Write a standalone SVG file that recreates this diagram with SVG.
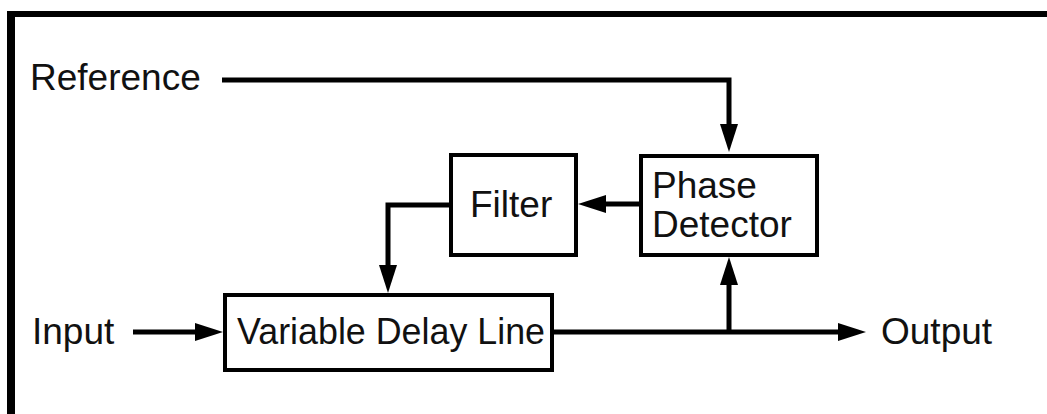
<svg xmlns="http://www.w3.org/2000/svg" width="1047" height="414" viewBox="0 0 1047 414">
<style>
.box{fill:#fff;stroke:#000;stroke-width:4}
.lbl{font-family:"Liberation Sans",Arial,sans-serif;font-size:37px;fill:#111}
.wire{fill:none;stroke:#000;stroke-width:5}
</style>
<defs>
<marker id="ah" viewBox="0 0 28 18" refX="8" refY="9" markerWidth="28" markerHeight="18" markerUnits="userSpaceOnUse" orient="auto">
<path d="M0,0 L28,9 L0,18 z" fill="#000"/>
</marker>
</defs>
<rect width="1047" height="414" fill="#fff"/>
<g id="frame">
<rect x="7" y="11" width="1040" height="6" fill="#000"/>
<rect x="7" y="11" width="8" height="403" fill="#000"/>
</g>
<g id="connectors">
<path class="wire" d="M222,80 H729 V132" marker-end="url(#ah)"/>
<path class="wire" d="M639,204 H598" marker-end="url(#ah)"/>
<path class="wire" d="M449,205 H388 V273" marker-end="url(#ah)"/>
<path class="wire" d="M133,332 H203" marker-end="url(#ah)"/>
<path class="wire" d="M554,332 H846" marker-end="url(#ah)"/>
<path class="wire" d="M729,332 V277" marker-end="url(#ah)"/>
</g>
<g id="labels">
<text class="lbl" x="30" y="90">Reference</text>
<text class="lbl" x="32" y="344">Input</text>
<text class="lbl" x="881" y="344">Output</text>
</g>
<g id="filter">
<rect class="box" x="451" y="155" width="125" height="100"/>
<text class="lbl" x="470" y="217">Filter</text>
</g>
<g id="phase-detector">
<rect class="box" x="641" y="156" width="176" height="99"/>
<text class="lbl" x="652" y="198">Phase</text>
<text class="lbl" x="652" y="237">Detector</text>
</g>
<g id="variable-delay-line">
<rect class="box" x="225" y="295" width="327" height="75"/>
<text class="lbl" x="237" y="344" textLength="308" lengthAdjust="spacingAndGlyphs">Variable Delay Line</text>
</g>
</svg>
